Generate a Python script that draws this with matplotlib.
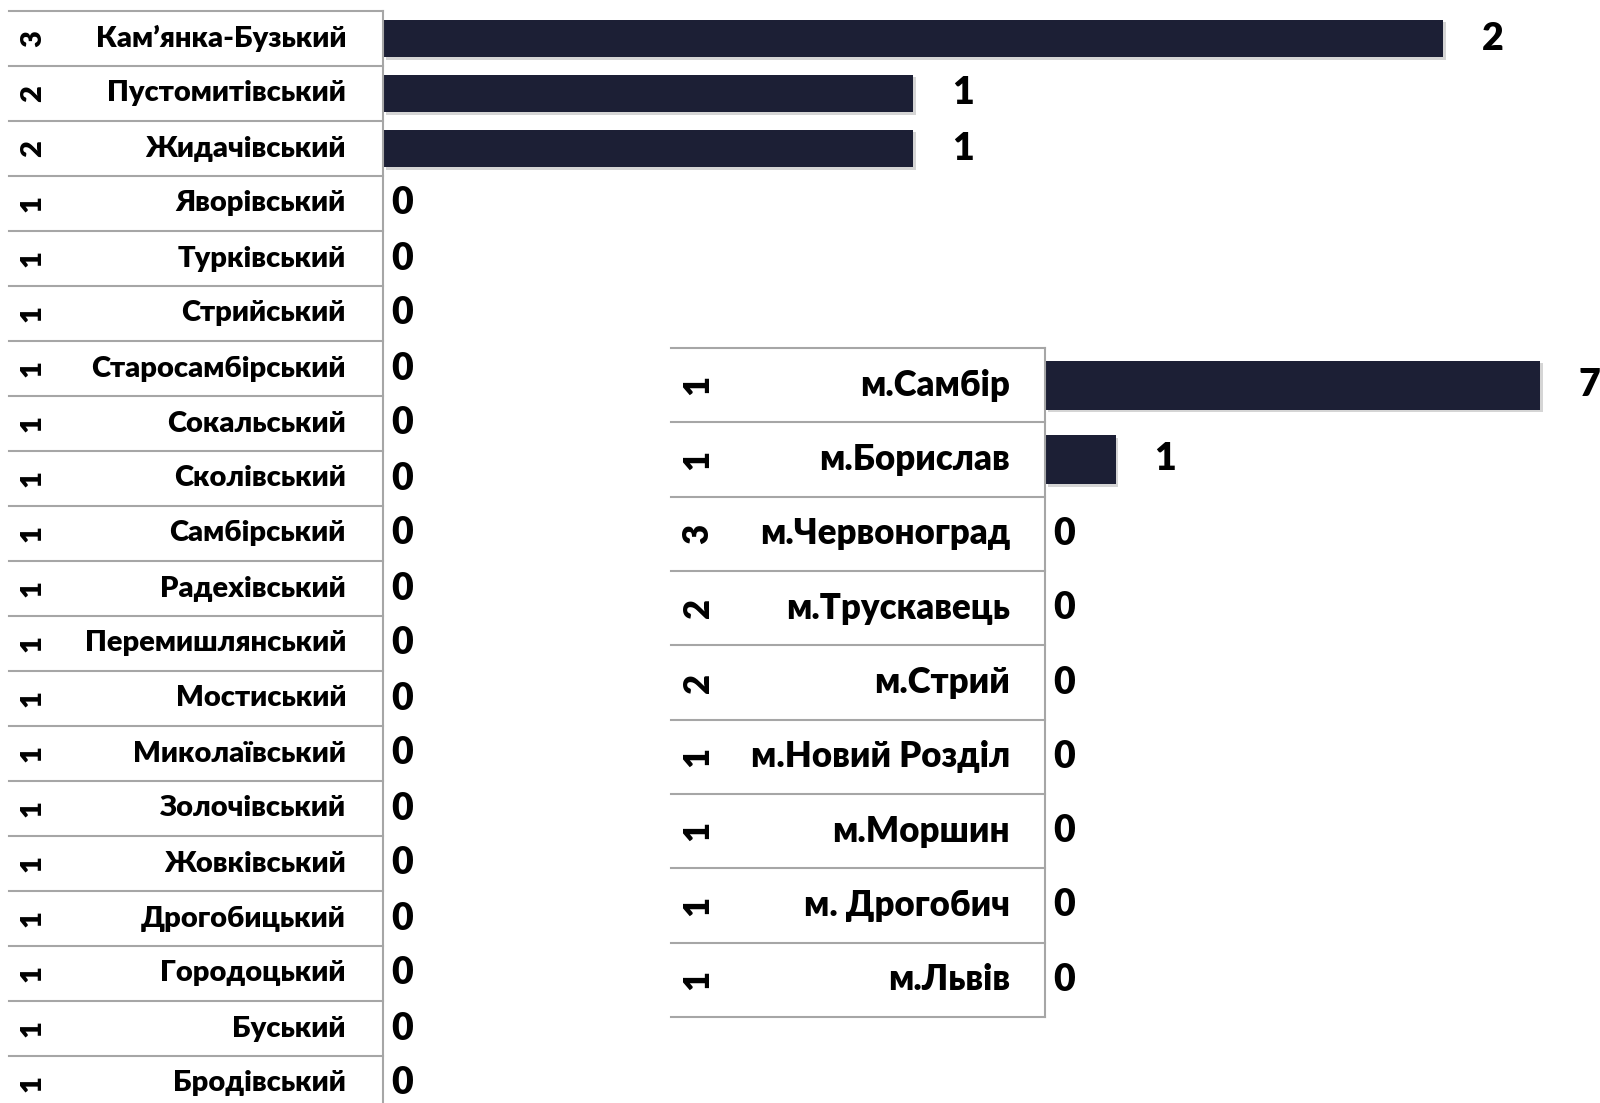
import matplotlib
matplotlib.use('Agg')
import matplotlib.pyplot as plt
import matplotlib.patheffects as pe
from matplotlib.transforms import blended_transform_factory

plt.rcParams['font.family'] = ['Lato', 'Open Sans', 'DejaVu Sans']

# districts (top to bottom)
district_names = ['Кам’янка-Бузький', 'Пустомитівський', 'Жидачівський', 'Яворівський',
                  'Турківський', 'Стрийський', 'Старосамбірський', 'Сокальський',
                  'Сколівський', 'Самбірський', 'Радехівський', 'Перемишлянський',
                  'Мостиський', 'Миколаївський', 'Золочівський', 'Жовківський',
                  'Дрогобицький', 'Городоцький', 'Буський', 'Бродівський']
district_groups = [3, 2, 2, 1, 1, 1, 1, 1, 1, 1, 1, 1, 1, 1, 1, 1, 1, 1, 1, 1]
district_values = [2, 1, 1, 0, 0, 0, 0, 0, 0, 0, 0, 0, 0, 0, 0, 0, 0, 0, 0, 0]

# cities (top to bottom)
city_names = ['м.Самбір', 'м.Борислав', 'м.Червоноград', 'м.Трускавець', 'м.Стрий',
              'м.Новий Розділ', 'м.Моршин', 'м. Дрогобич', 'м.Львів']
city_groups = [1, 1, 3, 2, 2, 1, 1, 1, 1]
city_values = [7, 1, 0, 0, 0, 0, 0, 0, 0]

W, H = 1600, 1103
BAR = '#1c1f35'
GRID = '#a6a6a6'
WEIGHT = 'heavy'

fig = plt.figure(figsize=(W / 100, H / 100), dpi=100)


def px(x):
    return x / W


def py(y):
    return 1 - y / H


def draw_panel(rect, names, groups, values, xmax, line_x0, name_x, group_x,
               name_size, group_size, bar_height):
    ax = fig.add_axes(rect)
    ax.patch.set_alpha(0)
    n = len(names)
    ypos = list(range(n))
    shadow = [pe.SimplePatchShadow(offset=(2, -2), shadow_rgbFace='#888888', alpha=0.35),
              pe.Normal()]
    bars = ax.barh(ypos, values, height=bar_height, color=BAR)
    for b in bars:
        b.set_path_effects(shadow)
    ax.set_xlim(0, xmax)
    ax.set_ylim(n - 0.5, -0.5)
    ax.set_xticks([])
    ax.set_yticks([])
    for s in ['top', 'right', 'bottom']:
        ax.spines[s].set_visible(False)
    ax.spines['left'].set_color(GRID)
    ax.spines['left'].set_linewidth(1.5)

    # row separators run from the outer label column up to the axis
    tr = blended_transform_factory(fig.transFigure, ax.transData)
    axis_x = rect[0]
    for i in range(n + 1):
        ax.plot([px(line_x0), axis_x], [i - 0.5, i - 0.5], color=GRID, lw=1.5,
                transform=tr, clip_on=False)
    for i, (name, g, v) in enumerate(zip(names, groups, values)):
        ax.text(px(name_x), i, name, transform=tr, ha='right', va='center',
                fontsize=name_size, fontweight=WEIGHT)
        ax.text(px(group_x), i, str(g), transform=tr, ha='center', va='center',
                rotation=90, fontsize=group_size, fontweight=WEIGHT)
        pad = 6 if v == 0 else 28
        ax.annotate(str(v), (v, i), xytext=(pad, 0), textcoords='offset points',
                    ha='left', va='center', fontsize=27, fontweight=WEIGHT,
                    annotation_clip=False)
    return ax


# left panel: axis at x=383 px, rows 55 px tall starting at y=11
draw_panel([px(383), py(1111), px(W - 383), 1100 / H],
           district_names, district_groups, district_values,
           xmax=(W - 383) / 530, line_x0=9, name_x=346, group_x=33,
           name_size=21, group_size=21, bar_height=0.69)

# right panel: axis at x=1045 px, rows ~74 px tall starting at y=348
draw_panel([px(1045), py(1017), px(W - 1045), 669 / H],
           city_names, city_groups, city_values,
           xmax=(W - 1045) / 70.7, line_x0=671, name_x=1010, group_x=698,
           name_size=25, group_size=25, bar_height=0.66)

fig.savefig('out.png', dpi=100)
